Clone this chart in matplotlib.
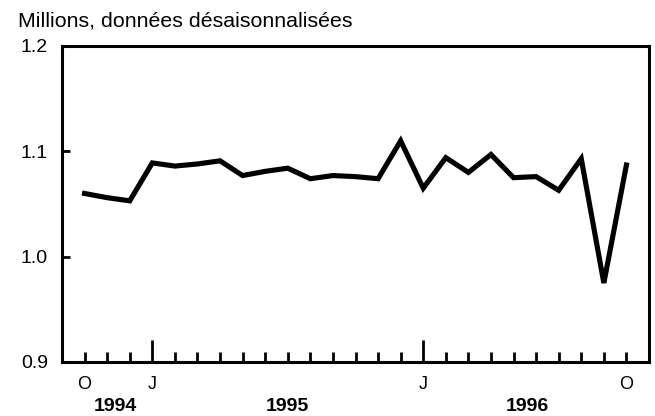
import matplotlib.pyplot as plt
import numpy as np

plt.rcParams['font.family'] = ['Liberation Sans', 'DejaVu Sans']

# monthly values, Oct 1994 .. Oct 1996 (millions, seasonally adjusted)
months = list(range(25))
values = [1.060, 1.056, 1.053, 1.089, 1.086, 1.088, 1.091, 1.077, 1.081,
          1.084, 1.074, 1.077, 1.076, 1.074, 1.110, 1.065, 1.094, 1.080,
          1.097, 1.075, 1.076, 1.063, 1.093, 0.975, 1.087]

month_ticks = [0, 3, 15, 24]
month_labels = ['O', 'J', 'J', 'O']
year_pos = [1.35, 9, 19.6]
year_labels = ['1994', '1995', '1996']

fig = plt.figure(figsize=(6.55, 4.16), dpi=100)
ax = fig.add_axes([62 / 655, 54 / 416, 587 / 655, 316 / 416])

ax.plot(months, values, color='black', lw=3.7, solid_joinstyle='miter')

ax.set_xlim(-1, 25)
ax.set_ylim(0.9, 1.2)
ax.set_yticks([0.9, 1.0, 1.1, 1.2])
ax.set_yticklabels(['0.9', '1.0', '1.1', '1.2'])

ax.set_xticks(month_ticks)
ax.set_xticklabels(month_labels)
ax.set_xticks([m for m in months if m not in month_ticks], minor=True)

for s in ax.spines.values():
    s.set_linewidth(2.2)

ax.tick_params(axis='y', direction='in', length=6, width=2, labelsize=14, pad=10)
ax.tick_params(axis='x', which='both', direction='in', width=2, labelsize=13, pad=10)
ax.tick_params(axis='x', which='minor', length=7.5)
ax.tick_params(axis='x', which='major', length=7.5)
# January ticks are long
for t, m in zip(ax.xaxis.get_major_ticks(), month_ticks):
    if month_labels[month_ticks.index(m)] == 'J':
        t.tick1line.set_markersize(16)

for x, lab in zip(year_pos, year_labels):
    ax.text(x, -0.14, lab, transform=ax.get_xaxis_transform(),
            ha='center', va='center', fontsize=14, fontweight='bold')

fig.text(18 / 655, 1 - 21 / 416, 'Millions, données désaisonnalisées',
         ha='left', va='center', fontsize=15.4)

fig.savefig('out.png', dpi=100)
